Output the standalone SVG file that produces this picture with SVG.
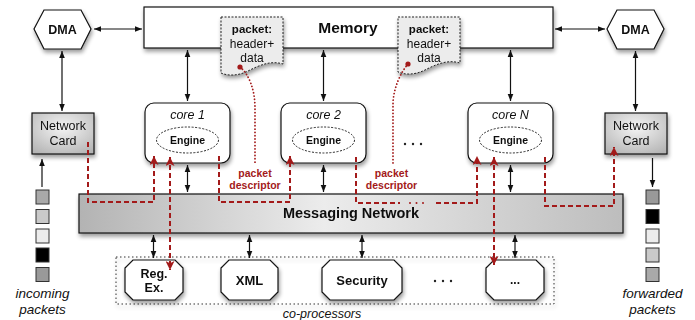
<svg xmlns="http://www.w3.org/2000/svg" width="695" height="320" viewBox="0 0 695 320">
  <style>
    .box { fill: #fff; stroke: #111; stroke-width: 1.2; }
    .lbl { font-family: "Liberation Sans", Arial, sans-serif; fill: #111; text-anchor: middle; }
    .b { font-weight: bold; }
    .it { font-style: italic; }
    .conn { fill: none; stroke: #111; stroke-width: 1.2; }
    .red { fill: none; stroke: #a31a1a; stroke-width: 2; stroke-dasharray: 5 3; }
    .dot { fill: none; stroke: #a31a1a; stroke-width: 1.8; stroke-dasharray: 0.1 3.2; stroke-linecap: round; }
    .rtxt { font-family: "Liberation Sans", Arial, sans-serif; font-weight: bold; font-size: 10.5px; fill: #a31a1a; text-anchor: middle; }
    .note { fill: #ececec; stroke: #222; stroke-width: 1; stroke-dasharray: 2 1.5; }
    .pkt { stroke: #333; stroke-width: 1; }
    .ell { fill: #222; }
  </style>
  <defs>
    <filter id="sh" x="-15%" y="-15%" width="135%" height="150%">
      <feGaussianBlur in="SourceAlpha" stdDeviation="2"/>
      <feOffset dx="1" dy="3" result="o"/>
      <feComponentTransfer><feFuncA type="linear" slope="0.4"/></feComponentTransfer>
      <feMerge><feMergeNode/><feMergeNode in="SourceGraphic"/></feMerge>
    </filter>
    <linearGradient id="gNet" x1="0" y1="0" x2="1" y2="0">
      <stop offset="0" stop-color="#b3b3b3"/>
      <stop offset="0.45" stop-color="#ececec"/>
      <stop offset="1" stop-color="#bdbdbd"/>
    </linearGradient>
    <radialGradient id="gCard" cx="0.5" cy="0.35" r="0.75">
      <stop offset="0" stop-color="#f4f4f4"/>
      <stop offset="1" stop-color="#b4b4b4"/>
    </radialGradient>
    <marker id="ah" viewBox="0 0 10 10" refX="10" refY="5" markerWidth="7" markerHeight="7" markerUnits="userSpaceOnUse" orient="auto-start-reverse">
      <path d="M0,1 L10,5 L0,9 z" fill="#111"/>
    </marker>
    <marker id="rh" viewBox="0 0 10 10" refX="10" refY="5" markerWidth="9" markerHeight="9" markerUnits="userSpaceOnUse" orient="auto-start-reverse">
      <path d="M0,0 L10,5 L0,10 L2.5,5 z" fill="#a31a1a"/>
    </marker>
  </defs>

  <!-- shared memory -->
  <g id="memory" filter="url(#sh)">
    <rect class="box" x="144" y="7" width="409" height="41"/>
    <text class="lbl b" x="348" y="33" font-size="15.5">Memory</text>
  </g>

  <!-- packets held in memory -->
  <g id="packet1" filter="url(#sh)">
    <path class="note" d="M221,17 H283 V64 C270,60 258,66 248,71 C238,76 228,76 221,73 Z"/>
    <text class="lbl b" x="252" y="33" font-size="11.5">packet:</text>
    <text class="lbl" x="252" y="48" font-size="12">header+</text>
    <text class="lbl" x="252" y="62" font-size="12">data</text>
  </g>
  <g id="packet2" filter="url(#sh)">
    <path class="note" d="M398,17 H460 V63 C447,59 435,65 425,70 C415,75 405,75 398,72 Z"/>
    <text class="lbl b" x="429" y="33" font-size="11.5">packet:</text>
    <text class="lbl" x="429" y="48" font-size="12">header+</text>
    <text class="lbl" x="429" y="62" font-size="12">data</text>
  </g>

  <!-- DMA engines -->
  <g id="dma-left" filter="url(#sh)">
    <polygon class="box" points="34,29 44,10 81,10 91,29 81,49 44,49"/>
    <text class="lbl b" x="62.5" y="33.5" font-size="12.5">DMA</text>
  </g>
  <g id="dma-right" filter="url(#sh)">
    <polygon class="box" points="607,29 617,10 654,10 664,29 654,49 617,49"/>
    <text class="lbl b" x="635.5" y="33.5" font-size="12.5">DMA</text>
  </g>

  <!-- network cards -->
  <g id="nic-left" filter="url(#sh)">
    <rect x="32" y="113" width="62" height="41" fill="url(#gCard)" stroke="#111" stroke-width="1.2"/>
    <text class="lbl" x="63" y="130" font-size="12.5">Network</text>
    <text class="lbl" x="63" y="145" font-size="12.5">Card</text>
  </g>
  <g id="nic-right" filter="url(#sh)">
    <rect x="605" y="113" width="62" height="41" fill="url(#gCard)" stroke="#111" stroke-width="1.2"/>
    <text class="lbl" x="636" y="130" font-size="12.5">Network</text>
    <text class="lbl" x="636" y="145" font-size="12.5">Card</text>
  </g>

  <!-- cores -->
  <g id="core1" filter="url(#sh)">
    <rect class="box" x="145" y="103" width="85" height="60" rx="9"/>
    <text class="lbl it" x="187.5" y="118.5" font-size="12.5">core 1</text>
    <ellipse cx="187.5" cy="140" rx="31" ry="13" fill="#fff" stroke="#111" stroke-width="0.9" stroke-dasharray="2 1.5"/>
    <text class="lbl b" x="187.5" y="144" font-size="10.5">Engine</text>
  </g>
  <g id="core2" filter="url(#sh)">
    <rect class="box" x="281" y="103" width="85" height="60" rx="9"/>
    <text class="lbl it" x="323.5" y="118.5" font-size="12.5">core 2</text>
    <ellipse cx="323.5" cy="140" rx="31" ry="13" fill="#fff" stroke="#111" stroke-width="0.9" stroke-dasharray="2 1.5"/>
    <text class="lbl b" x="323.5" y="144" font-size="10.5">Engine</text>
  </g>
  <g id="coreN" filter="url(#sh)">
    <rect class="box" x="468" y="103" width="85" height="60" rx="9"/>
    <text class="lbl it" x="510.5" y="118.5" font-size="12.5">core N</text>
    <ellipse cx="510.5" cy="140" rx="31" ry="13" fill="#fff" stroke="#111" stroke-width="0.9" stroke-dasharray="2 1.5"/>
    <text class="lbl b" x="510.5" y="144" font-size="10.5">Engine</text>
  </g>
  <!-- more cores -->
  <g id="core-ellipsis">
    <circle class="ell" cx="405" cy="144" r="1.2"/>
    <circle class="ell" cx="413" cy="144" r="1.2"/>
    <circle class="ell" cx="421" cy="144" r="1.2"/>
  </g>

  <!-- messaging network -->
  <g id="messaging" filter="url(#sh)">
    <rect x="79" y="194" width="544" height="39" fill="url(#gNet)" stroke="#111" stroke-width="1.2"/>
    <text class="lbl b" x="351" y="218" font-size="14.5">Messaging Network</text>
  </g>

  <!-- co-processors -->
  <g id="coproc-group" filter="url(#sh)">
    <rect x="116" y="257" width="438" height="47" fill="none" stroke="#333" stroke-width="1" stroke-dasharray="1.5 2.5"/>
  </g>
  <text class="lbl it" x="322" y="318" font-size="12.5">co-processors</text>
  <g id="regex" filter="url(#sh)">
    <polygon class="box" points="133,260 175,260 183,268 183,292 175,300 133,300 125,292 125,268"/>
    <text class="lbl b" x="154" y="278" font-size="12.5">Reg.</text>
    <text class="lbl b" x="154" y="292" font-size="12.5">Ex.</text>
  </g>
  <g id="xml" filter="url(#sh)">
    <polygon class="box" points="229,260 270,260 278,268 278,292 270,300 229,300 221,292 221,268"/>
    <text class="lbl b" x="249.5" y="285" font-size="13">XML</text>
  </g>
  <g id="security" filter="url(#sh)">
    <polygon class="box" points="330,260 394,260 402,268 402,292 394,300 330,300 322,292 322,268"/>
    <text class="lbl b" x="362" y="285" font-size="13">Security</text>
  </g>
  <!-- more co-processors -->
  <g id="coproc-ellipsis">
    <circle class="ell" cx="435" cy="281" r="1.2"/>
    <circle class="ell" cx="443" cy="281" r="1.2"/>
    <circle class="ell" cx="451" cy="281" r="1.2"/>
  </g>
  <g id="coproc-n" filter="url(#sh)">
    <polygon class="box" points="494,260 536,260 544,268 544,292 536,300 494,300 486,292 486,268"/>
    <text class="lbl b" x="515" y="284" font-size="12">...</text>
  </g>

  <!-- packet streams -->
  <g id="incoming">
    <rect class="pkt" x="36" y="190" width="13" height="14" fill="#a9a9a9"/>
    <rect class="pkt" x="36" y="209.5" width="13" height="14" fill="#c9c9c9"/>
    <rect class="pkt" x="36" y="229" width="13" height="14" fill="#ececec"/>
    <rect class="pkt" x="36" y="248" width="13" height="14" fill="#000"/>
    <rect class="pkt" x="36" y="267.5" width="13" height="14" fill="#999"/>
    <text class="lbl it" x="42.5" y="298" font-size="13.5">incoming</text>
    <text class="lbl it" x="42.5" y="314" font-size="13.5">packets</text>
  </g>
  <g id="forwarded">
    <rect class="pkt" x="646" y="190" width="13" height="14" fill="#999"/>
    <rect class="pkt" x="646" y="209.5" width="13" height="14" fill="#000"/>
    <rect class="pkt" x="646" y="229" width="13" height="14" fill="#ececec"/>
    <rect class="pkt" x="646" y="248" width="13" height="14" fill="#c9c9c9"/>
    <rect class="pkt" x="646" y="267.5" width="13" height="14" fill="#a9a9a9"/>
    <text class="lbl it" x="652.5" y="298" font-size="13.5">forwarded</text>
    <text class="lbl it" x="652.5" y="314" font-size="13.5">packets</text>
  </g>

  <!-- connectors -->
  <g id="connectors">
    <!-- control / data paths -->
    <path class="conn" d="M94,29 H142" marker-start="url(#ah)" marker-end="url(#ah)"/>
    <path class="conn" d="M555,29 H605" marker-start="url(#ah)" marker-end="url(#ah)"/>
    <path class="conn" d="M62,51 V111" marker-start="url(#ah)" marker-end="url(#ah)"/>
    <path class="conn" d="M635.5,51 V111" marker-start="url(#ah)" marker-end="url(#ah)"/>
    <path class="conn" d="M42,187 V159" marker-end="url(#ah)"/>
    <path class="conn" d="M652.5,158 V187" marker-end="url(#ah)"/>
    <path class="conn" d="M187.5,50 V101" marker-start="url(#ah)" marker-end="url(#ah)"/>
    <path class="conn" d="M323.5,50 V101" marker-start="url(#ah)" marker-end="url(#ah)"/>
    <path class="conn" d="M510.5,50 V101" marker-start="url(#ah)" marker-end="url(#ah)"/>
    <path class="conn" d="M187.5,165 V192" marker-start="url(#ah)" marker-end="url(#ah)"/>
    <path class="conn" d="M323.5,165 V192" marker-start="url(#ah)" marker-end="url(#ah)"/>
    <path class="conn" d="M510.5,165 V192" marker-start="url(#ah)" marker-end="url(#ah)"/>
    <path class="conn" d="M153.5,235 V258" marker-start="url(#ah)" marker-end="url(#ah)"/>
    <path class="conn" d="M249.5,235 V258" marker-start="url(#ah)" marker-end="url(#ah)"/>
    <path class="conn" d="M362,235 V258" marker-start="url(#ah)" marker-end="url(#ah)"/>
    <path class="conn" d="M515,235 V258" marker-start="url(#ah)" marker-end="url(#ah)"/>

    <!-- packet descriptor flow -->
    <path class="red" d="M88,142 V202 H154 V156" marker-end="url(#rh)"/>
    <path class="red" d="M170,157 V270" marker-start="url(#rh)" marker-end="url(#rh)"/>
    <path class="red" d="M219,156 V202 H290 V156" marker-end="url(#rh)"/>
    <path class="red" d="M356,157 V203 H400"/>
    <circle cx="410" cy="203" r="1" fill="#a31a1a"/>
    <circle cx="416.5" cy="203" r="1" fill="#a31a1a"/>
    <circle cx="423" cy="203" r="1" fill="#a31a1a"/>
    <path class="red" d="M436,203 H477 V156" marker-end="url(#rh)"/>
    <path class="red" d="M494,157 V265" marker-start="url(#rh)" marker-end="url(#rh)"/>
    <path class="red" d="M545,157 V206 H614 V147" marker-end="url(#rh)"/>

    <!-- descriptor references to packets -->
    <path class="dot" d="M240,67 C249,74 255,90 255,108 V163"/>
    <circle cx="240" cy="67" r="2.6" fill="#a31a1a"/>
    <path class="dot" d="M408,64 C401,72 393,88 393,105 V163"/>
    <circle cx="408" cy="64" r="2.6" fill="#a31a1a"/>
  </g>

  <!-- descriptor labels -->
  <text class="rtxt" x="255" y="177">packet</text>
  <text class="rtxt" x="255" y="189">descriptor</text>
  <text class="rtxt" x="391.5" y="177">packet</text>
  <text class="rtxt" x="391.5" y="189">descriptor</text>
</svg>
